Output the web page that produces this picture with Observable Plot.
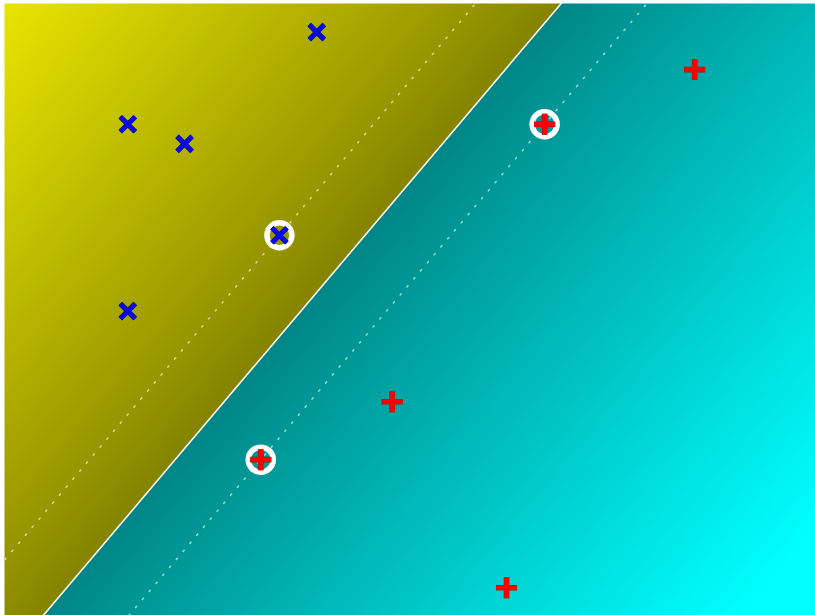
<!DOCTYPE html>
<html>
<head>
<meta charset="utf-8">
<script src="https://cdn.jsdelivr.net/npm/d3@7"></script>
<script src="https://cdn.jsdelivr.net/npm/@observablehq/plot@0.6"></script>
<style>
  html, body { margin: 0; padding: 0; background: #ffffff; }
  #chart svg { display: block; }
</style>
</head>
<body>
<div id="chart"></div>
<script>
// Class A (blue ×) training points
const classAX = [3.85, 1.52, 2.22, 3.39, 1.52];
const classAY = [7.15, 6.02, 5.78, 4.66, 3.73];
const classASV = [false, false, false, true, false];

// Class B (red +) training points
const classBX = [8.51, 6.66, 4.78, 3.16, 6.19];
const classBY = [6.69, 6.02, 2.62, 1.91, 0.34];
const classBSV = [false, true, false, true, false];

// Plot extent (data units)
const xDomain = [0, 10];
const yDomain = [0, 7.5];

// Build point table
const points = [
  ...classAX.map((x, i) => ({x, y: classAY[i], cls: "A", sv: classASV[i]})),
  ...classBX.map((x, i) => ({x, y: classBY[i], cls: "B", sv: classBSV[i]}))
];
const svs = points.filter(d => d.sv);

// Linear decision function derived from the support vectors
const svB = points.filter(d => d.sv && d.cls === "B");
const svA = points.filter(d => d.sv && d.cls === "A")[0];
const P2 = svB[1], P1 = svB[0];
const dir = [P1.x - P2.x, P1.y - P2.y];
const nrm = [dir[1], -dir[0]];
const gRaw = (x, y) => nrm[0] * (x - P2.x) + nrm[1] * (y - P2.y);
const gA = gRaw(svA.x, svA.y);
const decision = (x, y) => -1 + 2 * gRaw(x, y) / gA; // +1 at class A margin, -1 at class B margin

// Line f = c across the frame
function levelLine(c) {
  const G = (c + 1) / 2 * gA;
  return yDomain.map(y => ({x: P2.x + (G - nrm[1] * (y - P2.y)) / nrm[0], y}));
}

const colorInterp = t => {
  const f = 18 * t - 9;
  const a = Math.min(Math.abs(f) / 8.2, 1);
  const v = Math.round(133 + 122 * Math.pow(a, 0.92));
  return f >= 0 ? `rgb(${v},${Math.round(v * 0.985)},0)` : `rgb(0,${v},${v})`;
};

const times = {
  draw(ctx, size) {
    const r = Math.sqrt(size / Math.PI);
    ctx.moveTo(-r, -r); ctx.lineTo(r, r);
    ctx.moveTo(-r, r); ctx.lineTo(r, -r);
  }
};
const plus = {
  draw(ctx, size) {
    const r = Math.sqrt(size / Math.PI);
    ctx.moveTo(-r, 0); ctx.lineTo(r, 0);
    ctx.moveTo(0, -r); ctx.lineTo(0, r);
  }
};

const A = points.filter(d => d.cls === "A");
const B = points.filter(d => d.cls === "B");

const chart = Plot.plot({
  width: 815,
  height: 615,
  marginTop: 3,
  marginLeft: 4,
  marginRight: 0,
  marginBottom: 0,
  x: {domain: xDomain, axis: null},
  y: {domain: yDomain, axis: null},
  color: {type: "linear", domain: [-9, 9], clamp: true, interpolate: colorInterp},
  marks: [
    Plot.raster({fill: decision, x1: xDomain[0], x2: xDomain[1], y1: yDomain[0], y2: yDomain[1], pixelSize: 1}),
    Plot.line(levelLine(1), {x: "x", y: "y", stroke: "white", strokeWidth: 1.6, strokeOpacity: 0.6, strokeDasharray: "1.5 9", clip: true}),
    Plot.line(levelLine(-1), {x: "x", y: "y", stroke: "white", strokeWidth: 1.6, strokeOpacity: 0.6, strokeDasharray: "1.5 9", clip: true}),
    Plot.line(levelLine(0), {x: "x", y: "y", stroke: "white", strokeWidth: 1.6, strokeOpacity: 0.95, clip: true}),
    Plot.dot(svs, {x: "x", y: "y", r: 12.5, stroke: "white", strokeWidth: 5.5, fill: "none"}),
    Plot.dot(A, {x: "x", y: "y", symbol: times, r: 7.5, stroke: "#10106e", strokeWidth: 5.2}),
    Plot.dot(A, {x: "x", y: "y", symbol: times, r: 7.5, stroke: "#0a0ae6", strokeWidth: 4.2}),
    Plot.dot(B, {x: "x", y: "y", symbol: plus, r: 10.5, stroke: "#a01010", strokeWidth: 5.6}),
    Plot.dot(B, {x: "x", y: "y", symbol: plus, r: 10.5, stroke: "#ff0000", strokeWidth: 4.6})
  ]
});
document.getElementById("chart").appendChild(chart);
</script>
</body>
</html>
